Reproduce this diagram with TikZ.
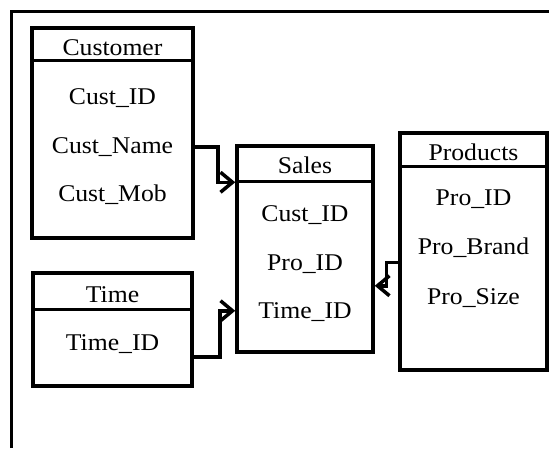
\documentclass[tikz,border=0pt]{standalone}
\usepackage{fontspec}
\setmainfont{Liberation Serif}
\usetikzlibrary{arrows.meta,calc}
\newcommand{\stretchtxt}[1]{\scalebox{1.07}[1]{#1}}
\begin{document}
\begin{tikzpicture}[x=1pt,y=-1pt,
  tbl/.style={draw,line width=3.5pt,rectangle,inner sep=0pt},
  lbl/.style={inner sep=0pt,font=\fontsize{24}{28}\selectfont},
  conn/.style={line width=3.5pt,-{Straight Barb[length=12pt,width=20pt,line width=3.5pt]}}]
\useasboundingbox (0,0) rectangle (549,448);
% outer frame
\draw[line width=3pt] (11,448) -- (11,11) -- (549,11);
% tables
\node[tbl,minimum width=161pt,minimum height=210pt] (cust) at (112.5,133) {};
\node[tbl,minimum width=136pt,minimum height=206pt] (sales) at (305,249) {};
\node[tbl,minimum width=147pt,minimum height=237pt] (prod) at (473.5,251.5) {};
\node[tbl,minimum width=159pt,minimum height=113pt] (time) at (112.5,329.5) {};
% header lines
\draw[line width=3.5pt] ($(cust.north west)+(0,34)$) -- ($(cust.north east)+(0,34)$);
\draw[line width=3.5pt] ($(sales.north west)+(0,37)$) -- ($(sales.north east)+(0,37)$);
\draw[line width=3.5pt] ($(prod.north west)+(0,35)$) -- ($(prod.north east)+(0,35)$);
\draw[line width=3.5pt] ($(time.north west)+(0,38)$) -- ($(time.north east)+(0,38)$);
% texts
\node[lbl] (custh) at (112.5,48) {\stretchtxt{Customer}};
\node[lbl] (cid) at (112.5,98) {\stretchtxt{Cust\_ID}};
\node[lbl] (cname) at (112.5,147) {\stretchtxt{Cust\_Name}};
\node[lbl] (cmob) at (112.5,195) {\stretchtxt{Cust\_Mob}};
\node[lbl] (salesh) at (305,165) {\stretchtxt{Sales}};
\node[lbl] (scid) at (305,215) {\stretchtxt{Cust\_ID}};
\node[lbl] (spid) at (305,264) {\stretchtxt{Pro\_ID}};
\node[lbl] (stid) at (305,312) {\stretchtxt{Time\_ID}};
\node[lbl] (prodh) at (473.5,152) {\stretchtxt{Products}};
\node[lbl] (pid) at (473.5,199) {\stretchtxt{Pro\_ID}};
\node[lbl] (pbrand) at (473.5,248) {\stretchtxt{Pro\_Brand}};
\node[lbl] (psize) at (473.5,298) {\stretchtxt{Pro\_Size}};
\node[lbl] (timeh) at (112.5,295) {\stretchtxt{Time}};
\node[lbl] (tid) at (112.5,344) {\stretchtxt{Time\_ID}};
% connectors
\draw[conn] (cust.east |- cname) -- ++(23,0) |- ($(sales.north west)+(0,38)$);
\draw[conn] ($(time.south east)+(0,-31)$) -- ++(26,0) |- ($(sales.south west)+(0,-43)$);
\draw[conn] ($(prod.north west)+(0,131)$) -- ++(-12,0) |- ($(sales.south east)+(0,-68)$);
\end{tikzpicture}
\end{document}
